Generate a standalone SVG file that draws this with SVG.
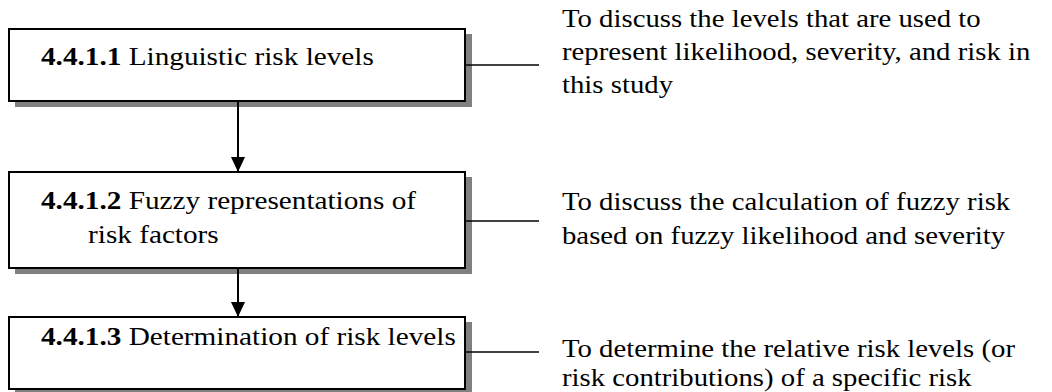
<svg xmlns="http://www.w3.org/2000/svg" width="1052" height="392" viewBox="0 0 1052 392">
<defs>
<style>
.box{fill:#fff;stroke:#000;stroke-width:2}
.shadow{fill:#808080}
.t{font-family:"Liberation Serif","Times New Roman",serif;font-size:25px;fill:#000}
.b{font-weight:bold}
.conn{stroke:#000;stroke-width:1.5;fill:none}
.arr{stroke:#000;stroke-width:2;fill:none}
</style>
<marker id="ah" viewBox="0 0 15 14" refX="15" refY="7" markerWidth="15" markerHeight="14" markerUnits="userSpaceOnUse" orient="auto">
<path d="M0,0 L15,7 L0,14 z" fill="#000"/>
</marker>
</defs>
<rect width="1052" height="392" fill="#fff"/>
<g id="node1">
<rect class="shadow" x="15" y="34" width="457" height="73"/>
<rect class="box" x="9" y="29" width="456" height="72"/>
<text class="t" transform="translate(41,65) scale(1.17,1)"><tspan class="b">4.4.1.1</tspan> Linguistic risk levels</text>
</g>
<g id="node2">
<rect class="shadow" x="15" y="177" width="457" height="97"/>
<rect class="box" x="9" y="172" width="456" height="96"/>
<text class="t" transform="translate(41,209) scale(1.17,1)"><tspan class="b">4.4.1.2</tspan> Fuzzy representations of<tspan x="40.2" y="34">risk factors</tspan></text>
</g>
<g id="node3">
<rect class="shadow" x="15" y="322" width="457" height="73"/>
<rect class="box" x="9" y="317" width="456" height="72"/>
<text class="t" transform="translate(41,345) scale(1.17,1)"><tspan class="b">4.4.1.3</tspan> Determination of risk levels</text>
</g>
<g id="desc1">
<text class="t" transform="translate(562,27) scale(1.15,1)"><tspan x="0" y="0">To discuss the levels that are used to</tspan><tspan x="0" y="33">represent likelihood, severity, and risk in</tspan><tspan x="0" y="66">this study</tspan></text>
</g>
<g id="desc2">
<text class="t" transform="translate(562,210) scale(1.15,1)"><tspan x="0" y="0">To discuss the calculation of fuzzy risk</tspan><tspan x="0" y="34">based on fuzzy likelihood and severity</tspan></text>
</g>
<g id="desc3">
<text class="t" transform="translate(562,357) scale(1.15,1)"><tspan x="0" y="0">To determine the relative risk levels (or</tspan><tspan x="0" y="29">risk contributions) of a specific risk</tspan></text>
</g>
<g id="connectors">
<line class="conn" x1="466" y1="65" x2="539" y2="65"/>
<line class="conn" x1="466" y1="221" x2="539" y2="221"/>
<line class="conn" x1="466" y1="352" x2="539" y2="352"/>
<line class="arr" x1="238" y1="102" x2="238" y2="172" marker-end="url(#ah)"/>
<line class="arr" x1="238" y1="269" x2="238" y2="317" marker-end="url(#ah)"/>
</g>
</svg>
